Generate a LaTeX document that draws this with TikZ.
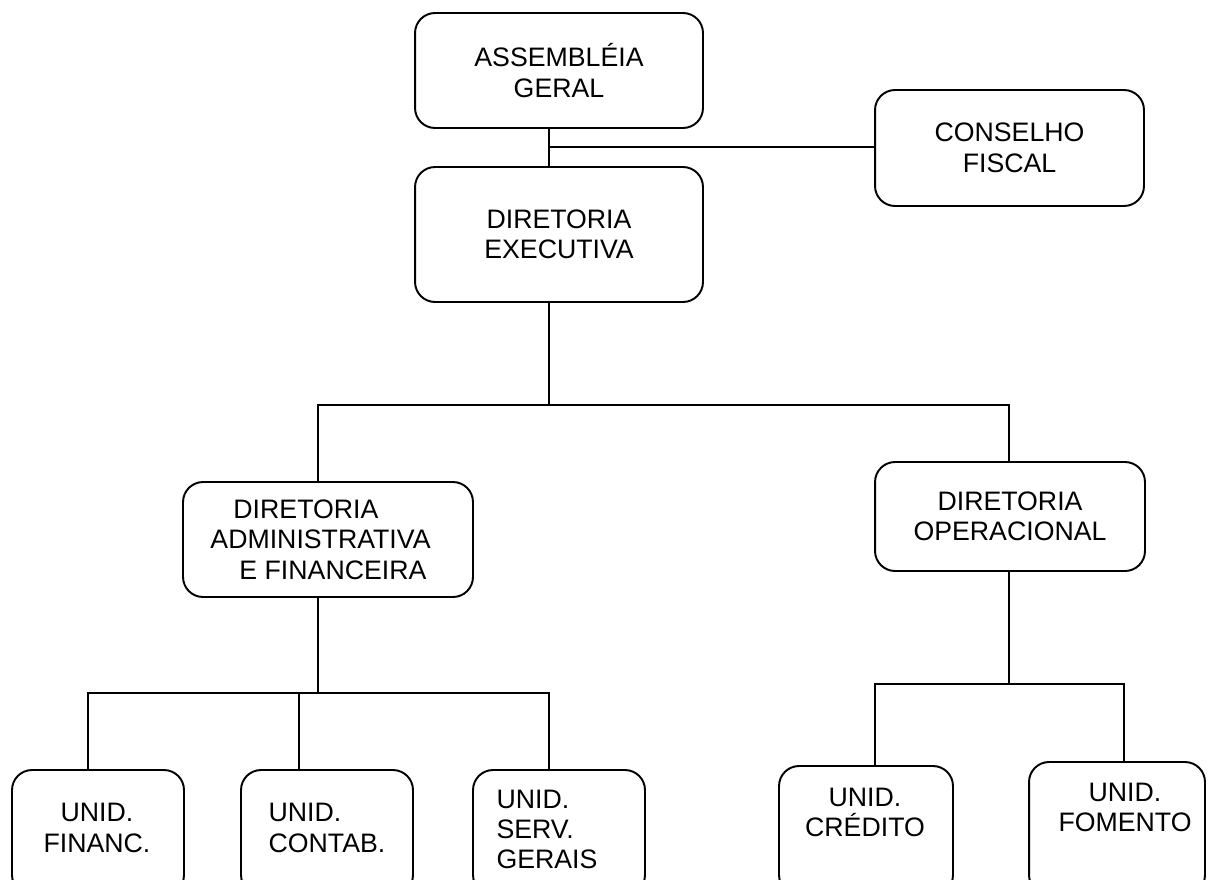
\documentclass[tikz,border=0pt]{standalone}
\usepackage{fontspec}
\setmainfont{Liberation Sans}
\usepackage{tikz}

\begin{document}
\begin{tikzpicture}[x=0.02cm, y=-0.02cm,
  every node/.style={font=\fontsize{15.2}{17.3}\selectfont},
  box/.style={draw, rounded corners=0.4cm, line width=1.1pt, align=center, inner sep=0pt},
  unit/.style={box, minimum width=3.44cm, minimum height=2.5cm},
  txt/.style={align=center, inner sep=0pt},
  txtl/.style={align=left, inner sep=0pt},
  conn/.style={line width=1.1pt}]
\useasboundingbox (0,0) rectangle (1212,879);

\node[box, minimum width=5.76cm, minimum height=2.3cm] (ag) at (559,70.5) {ASSEMBLÉIA\\GERAL};
\node[box, minimum width=5.76cm, minimum height=2.7cm] (de) at (559,234.5) {DIRETORIA\\EXECUTIVA};
\node[box, minimum width=5.38cm, minimum height=2.32cm] (cf) at (1009.5,148) {CONSELHO\\FISCAL};
\node[box, minimum width=5.8cm, minimum height=2.3cm, align=left] (daf) at (328,539.5)
  {\hspace*{0.46cm}DIRETORIA\\ADMINISTRATIVA\rule{0.3cm}{0pt}\\\hspace*{0.58cm}E FINANCEIRA};
\node[box, minimum width=5.4cm, minimum height=2.18cm] (do) at (1010,516.5) {DIRETORIA\\OPERACIONAL};

\node[unit] (fin) at (98,832.5) {};
\node[txt] (finT) at (97,828) {UNID.\\FINANC.};
\node[unit] (cont) at (327,832.5) {};
\node[txtl] (contT) at (327,828) {UNID.\\CONTAB.};
\node[unit] (serv) at (559,832.5) {};
\node[txtl] (servT) at (547,829.5) {UNID.\\SERV.\\GERAIS};
\node[unit, minimum width=3.48cm, minimum height=2.58cm] (cred) at (866,830.5) {};
\node[txt] (credT) at (865,812.5) {UNID.\\CRÉDITO};
\node[unit, minimum width=3.52cm, minimum height=2.66cm] (fom) at (1117,828.5) {};
\node[txt] (fomT) at (1125,807.5) {UNID.\\FOMENTO};

\coordinate (jAG) at (549,147);
\coordinate (jDE) at (549,405);
\coordinate (jDAF) at (318,405);
\coordinate (jDO) at (1009,405);
\coordinate (jADM) at (318,693);
\coordinate (jFIN) at (88,693);
\coordinate (jCON) at (299,693);
\coordinate (jSER) at (549,693);
\coordinate (jOPE) at (1009,684);
\coordinate (jCRE) at (875,684);
\coordinate (jFOM) at (1124,684);

\draw[conn] (ag.south -| jAG) -- (de.north -| jAG);
\draw[conn] (jAG) -- (cf.west |- jAG);
\draw[conn] (de.south -| jDE) -- (jDE);
\draw[conn] (daf.north -| jDAF) -- (jDAF) -- (jDO) -- (do.north -| jDO);
\draw[conn] (daf.south -| jADM) -- (jADM);
\draw[conn] (fin.north -| jFIN) -- (jFIN) -- (jSER) -- (serv.north -| jSER);
\draw[conn] (jCON) -- (cont.north -| jCON);
\draw[conn] (do.south -| jOPE) -- (jOPE);
\draw[conn] (cred.north -| jCRE) -- (jCRE) -- (jFOM) -- (fom.north -| jFOM);

\end{tikzpicture}
\end{document}
